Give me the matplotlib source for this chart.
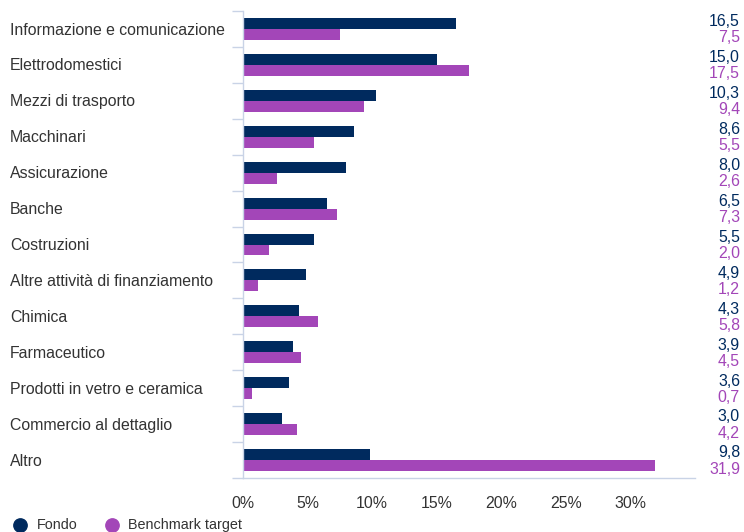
import matplotlib
matplotlib.use("Agg")
import matplotlib.pyplot as plt
from matplotlib.lines import Line2D
import matplotlib.transforms as mtransforms

plt.rcParams['font.family'] = ['Liberation Sans', 'DejaVu Sans']

categories = [
    "Informazione e comunicazione",
    "Elettrodomestici",
    "Mezzi di trasporto",
    "Macchinari",
    "Assicurazione",
    "Banche",
    "Costruzioni",
    "Altre attività di finanziamento",
    "Chimica",
    "Farmaceutico",
    "Prodotti in vetro e ceramica",
    "Commercio al dettaglio",
    "Altro",
]
fondo = [16.5, 15.0, 10.3, 8.6, 8.0, 6.5, 5.5, 4.9, 4.3, 3.9, 3.6, 3.0, 9.8]
benchmark = [7.5, 17.5, 9.4, 5.5, 2.6, 7.3, 2.0, 1.2, 5.8, 4.5, 0.7, 4.2, 31.9]
series_names = ["Fondo", "Benchmark target"]
xticks = [0, 5, 10, 15, 20, 25, 30]

NAVY = "#002A5E"
PURPLE = "#A346B8"
TEXT = "#333333"
AXIS = "#C9D3E6"
FS = 11.4
FS_LEG = 10.4

fig = plt.figure(figsize=(7.44, 5.32), dpi=100)
ax = fig.add_axes([243 / 744, 1 - 478 / 532, 452 / 744, 467 / 532])

n = len(categories)
pos = list(range(n))
bh = 0.305
ax.barh([p - bh / 2 for p in pos], fondo, height=bh, color=NAVY)
ax.barh([p + bh / 2 for p in pos], benchmark, height=bh, color=PURPLE)

ax.set_xlim(0, 35)
ax.set_ylim(n - 0.5, -0.5)

# spines
for s in ["top", "right"]:
    ax.spines[s].set_visible(False)
ax.spines["left"].set_color(AXIS)
ax.spines["bottom"].set_color(AXIS)
ax.spines["left"].set_linewidth(1.0)
ax.spines["bottom"].set_linewidth(1.0)

# category separators as ticks on the left
ax.set_yticks([p - 0.5 for p in pos] + [n - 0.5])
ax.set_yticklabels([])
ax.tick_params(axis="y", length=8, color=AXIS, width=1.0)

# x axis
ax.set_xticks(xticks)
ax.set_xticklabels([f"{t}%" for t in xticks], fontsize=FS, color=TEXT)
ax.tick_params(axis="x", length=0, pad=13)

# category labels, left aligned at the figure edge
lab_tr = mtransforms.blended_transform_factory(fig.transFigure, ax.transData)
for p, c in zip(pos, categories):
    ax.text(10 / 744, p + 0.03, c, transform=lab_tr, ha="left", va="center",
            fontsize=FS, color=TEXT, clip_on=False)

# value labels, right aligned
for p, f, b in zip(pos, fondo, benchmark):
    ax.text(740 / 744, p - 0.2, f"{f:.1f}".replace(".", ","), transform=lab_tr,
            ha="right", va="center", fontsize=FS, color=NAVY, clip_on=False)
    ax.text(740 / 744, p + 0.25, f"{b:.1f}".replace(".", ","), transform=lab_tr,
            ha="right", va="center", fontsize=FS, color=PURPLE, clip_on=False)

# legend
ly = 1 - 525 / 532
for cx, tx, col, name in [(20, 37, NAVY, series_names[0]), (112, 128, PURPLE, series_names[1])]:
    fig.add_artist(Line2D([cx / 744], [ly], marker="o", markersize=9.6,
                          color=col, linestyle="none", transform=fig.transFigure))
    fig.text(tx / 744, ly, name, ha="left", va="center", fontsize=FS_LEG, color=TEXT)

fig.savefig("out.png", dpi=100)
